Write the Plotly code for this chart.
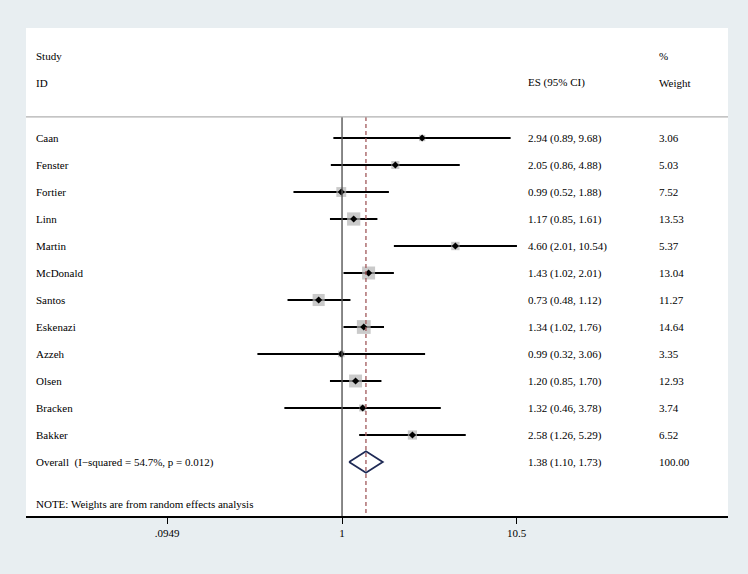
import plotly.graph_objects as go
import math

studies = ["Caan", "Fenster", "Fortier", "Linn", "Martin", "McDonald", "Santos",
           "Eskenazi", "Azzeh", "Olsen", "Bracken", "Bakker"]
es = [2.94, 2.05, 0.99, 1.17, 4.60, 1.43, 0.73, 1.34, 0.99, 1.20, 1.32, 2.58]
lo = [0.89, 0.86, 0.52, 0.85, 2.01, 1.02, 0.48, 1.02, 0.32, 0.85, 0.46, 1.26]
hi = [9.68, 4.88, 1.88, 1.61, 10.54, 2.01, 1.12, 1.76, 3.06, 1.70, 3.78, 5.29]
weights = [3.06, 5.03, 7.52, 13.53, 5.37, 13.04, 11.27, 14.64, 3.35, 12.93, 3.74, 6.52]
overall_es, overall_lo, overall_hi = 1.38, 1.10, 1.73
overall_label = "Overall  (I\u2212squared = 54.7%, p = 0.012)"
note = "NOTE: Weights are from random effects analysis"
tick_vals = [0.0949, 1, 10.5]
tick_text = [".0949", "1", "10.5"]

FONT = "Liberation Serif"
BG = "#e8eef1"
n = len(studies)
rows = list(range(n))
y_over = n
y_bottom = 14.0
y_top = -4.074
y_line = -0.78

fig = go.Figure()

# CI lines
cx, cy = [], []
for i in rows:
    cx += [lo[i], hi[i], None]
    cy += [i, i, None]
fig.add_trace(go.Scatter(x=cx, y=cy, mode="lines", line=dict(color="black", width=2),
                         hoverinfo="skip", showlegend=False))

# weight boxes
fig.add_trace(go.Scatter(x=es, y=rows, mode="markers",
                         marker=dict(symbol="square", color="#b4b4b4",
                                     size=[3.6 * math.sqrt(w) for w in weights],
                                     line=dict(width=0)),
                         showlegend=False))
# point markers
fig.add_trace(go.Scatter(x=es, y=rows, mode="markers",
                         marker=dict(symbol="diamond", color="black", size=5.5),
                         showlegend=False))

# null line at 1
fig.add_trace(go.Scatter(x=[1, 1], y=[y_line, y_bottom], mode="lines",
                         line=dict(color="#555555", width=1.4), showlegend=False,
                         hoverinfo="skip"))
# overall dashed line
fig.add_trace(go.Scatter(x=[overall_es, overall_es], y=[y_line, y_bottom], mode="lines",
                         line=dict(color="#a0585a", width=1.3, dash="4px,3px"),
                         showlegend=False, hoverinfo="skip"))
# overall diamond
dh = 0.4
fig.add_trace(go.Scatter(x=[overall_lo, overall_es, overall_hi, overall_es, overall_lo],
                         y=[y_over, y_over - dh, y_over, y_over + dh, y_over],
                         mode="lines", line=dict(color="#1f2a55", width=1.8),
                         showlegend=False, hoverinfo="skip"))

x_name = (34 - 26) / 702
x_es = (526 - 26) / 702
x_w = (657 - 26) / 702

ann = []
def txt(x, y, s):
    ann.append(dict(x=x, y=y, xref="paper", yref="y", text=s, showarrow=False,
                    xanchor="left", yanchor="middle",
                    font=dict(family=FONT, size=11, color="black")))

txt(x_name, -3.04, "Study")
txt(x_name, -2.04, "ID")
txt(x_es, -2.04, "ES (95% CI)")
txt(x_w, -3.04, "%")
txt(x_w, -2.04, "Weight")
for i in rows:
    txt(x_name, i, studies[i])
    txt(x_es, i, f"{es[i]:.2f} ({lo[i]:.2f}, {hi[i]:.2f})")
    txt(x_w, i, f"{weights[i]:.2f}")
txt(x_name, y_over, overall_label)
txt(x_es, y_over, f"{overall_es:.2f} ({overall_lo:.2f}, {overall_hi:.2f})")
txt(x_w, y_over, f"{sum(weights):.2f}")
txt(x_name, 13.56, note)

fig.update_layout(
    width=748, height=574,
    margin=dict(l=26, r=20, t=28, b=58),
    paper_bgcolor=BG,
    plot_bgcolor="white",
    annotations=ann,
    shapes=[dict(type="line", xref="paper", yref="y", x0=0, x1=1, y0=y_line, y1=y_line,
                 line=dict(color="#b0b0b0", width=1.2))],
    font=dict(family=FONT, size=11, color="black"),
)
fig.update_xaxes(type="log", range=[-1.848, 2.257], tickvals=tick_vals, ticktext=tick_text,
                 ticks="outside", ticklen=6, tickwidth=1.2, tickcolor="black",
                 showline=True, linecolor="black", linewidth=1.5,
                 showgrid=False, zeroline=False,
                 tickfont=dict(family=FONT, size=11, color="black"))
fig.update_yaxes(range=[y_bottom, y_top], showgrid=False, zeroline=False,
                 showticklabels=False, showline=False, ticks="")

fig.write_html("out.html",
               config={"displayModeBar": False},
               post_script="document.body.style.margin='0';"
                           "document.body.style.background='" + BG + "';"
                           "document.body.style.overflow='hidden';")
